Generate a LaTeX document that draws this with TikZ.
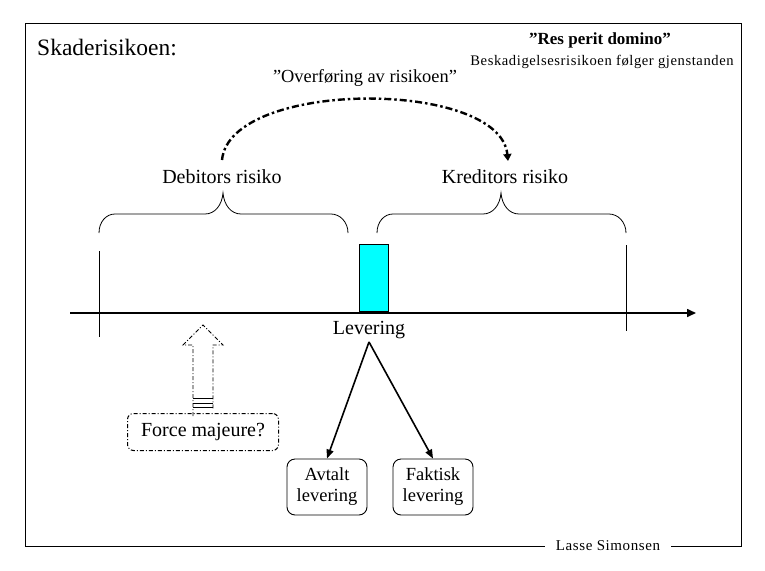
\documentclass[tikz,border=0pt]{standalone}
\usepackage{fontspec}
\setmainfont{Liberation Serif}
\usetikzlibrary{arrows.meta}
\definecolor{aqua}{RGB}{0,255,255}
\begin{document}
\begin{tikzpicture}[x=1pt,y=-1pt,
  lbl/.style={inner sep=1pt,font=\fontsize{20}{22}\selectfont},
  outbox/.style={draw,line width=0.9pt,rounded corners=8pt,align=center,inner sep=2pt,minimum width=80pt,minimum height=56pt,font=\fontsize{18.5}{21}\selectfont},
  brc/.style={line width=0.8pt},
  axisln/.style={line width=1.6pt},
  ddot/.style={dash pattern=on 4pt off 2pt on 1pt off 2pt},
  arcdash/.style={dash pattern=on 7pt off 3pt on 2.5pt off 3pt}]
\useasboundingbox (0,0) rectangle (765,570);
% frame
\node[font=\fontsize{15}{17}\selectfont\addfontfeatures{LetterSpace=4}, inner sep=1pt] (author) at (608,546) {Lasse Simonsen};
\coordinate (fl) at (25,546);
\draw[line width=0.9pt] (author.west) ++(-10,0) -- (fl) -- (25,23) -- (741,23) -- (741,546) -- ([xshift=10pt]author.east);
% titles
\node[anchor=west,font=\fontsize{23.5}{26}\selectfont,inner sep=0pt] (title) at (37,48) {Skaderisikoen:};
\node[font=\fontsize{17}{19}\selectfont\bfseries,inner sep=0pt] (res) at (600,40) {”Res perit domino”};
\node[font=\fontsize{14.6}{17}\selectfont\addfontfeatures{LetterSpace=4},inner sep=0pt] (besk) at (602,62) {Beskadigelsesrisikoen følger gjenstanden};
\node[font=\fontsize{18.4}{20}\selectfont,inner sep=0pt] (over) at (365,78) {”Overføring av risikoen”};
% risk labels
\node[lbl] (deb) at (222,177) {Debitors risiko};
\node[lbl] (kred) at (505,177) {Kreditors risiko};
\coordinate (arcs) at (222,160);
\coordinate (arce) at (508,161);
% arc
\draw[line width=2.4pt,arcdash,-{Triangle[length=7pt,width=8pt]}] (arcs) .. controls (230,79) and (500,79) .. (arce);
% braces
\draw[brc] (99,233) .. controls (99,222) and (106,214) .. (115,214) -- (205,214) .. controls (215,214) and (222,205) .. (223,193)
  .. controls (224,205) and (231,214) .. (241,214) -- (331,214) .. controls (340,214) and (348,222) .. (348,233);
\draw[brc] (377,233) .. controls (377,222) and (384,214) .. (393,214) -- (483,214) .. controls (493,214) and (500,205) .. (501,193)
  .. controls (502,205) and (509,214) .. (519,214) -- (609,214) .. controls (618,214) and (626,222) .. (626,233);
% verticals
\draw[line width=1pt] (99,251) -- (99,337);
\draw[line width=1pt] (626,245) -- (626,331);
% cyan block
\node[draw,fill=aqua,line width=1pt,minimum width=29pt,minimum height=67pt,inner sep=0pt,anchor=south] (lev) at (373.5,312) {};
% axis
\coordinate (ax0) at (70,313);
\coordinate (ax1) at (696,313);
\draw[axisln,-{Triangle[length=9pt,width=8pt]}] (ax0) -- (ax1);
% levering
\node[lbl] (levtxt) at (369,330) {Levering};
\node[outbox] (avt) at (327,487) {Avtalt\\levering};
\node[outbox] (fak) at (433,487) {Faktisk\\levering};
\draw[line width=1.6pt,-{Triangle[length=9pt,width=7pt]}] ([yshift=-2pt]levtxt.south) -- (avt.north);
\draw[line width=1.6pt,-{Triangle[length=9pt,width=7pt]}] ([yshift=-2pt]levtxt.south) -- (fak.north);
% force majeure
\node[draw,ddot,line width=1pt,rounded corners=6pt,inner sep=5pt,minimum width=151pt,minimum height=37pt,font=\fontsize{20}{22}\selectfont] (fm) at (203,432) {Force majeure?};
\draw[ddot,line width=0.9pt] (fm.north) ++(-10,3) -- (193,345) -- (183,345) -- (203,325) -- (223,345) -- (213,345) -- (213,410);
\draw[line width=0.7pt] (193,403) -- (213,403) (193,407) -- (213,407) (193,398) -- (213,398);
\end{tikzpicture}
\end{document}
